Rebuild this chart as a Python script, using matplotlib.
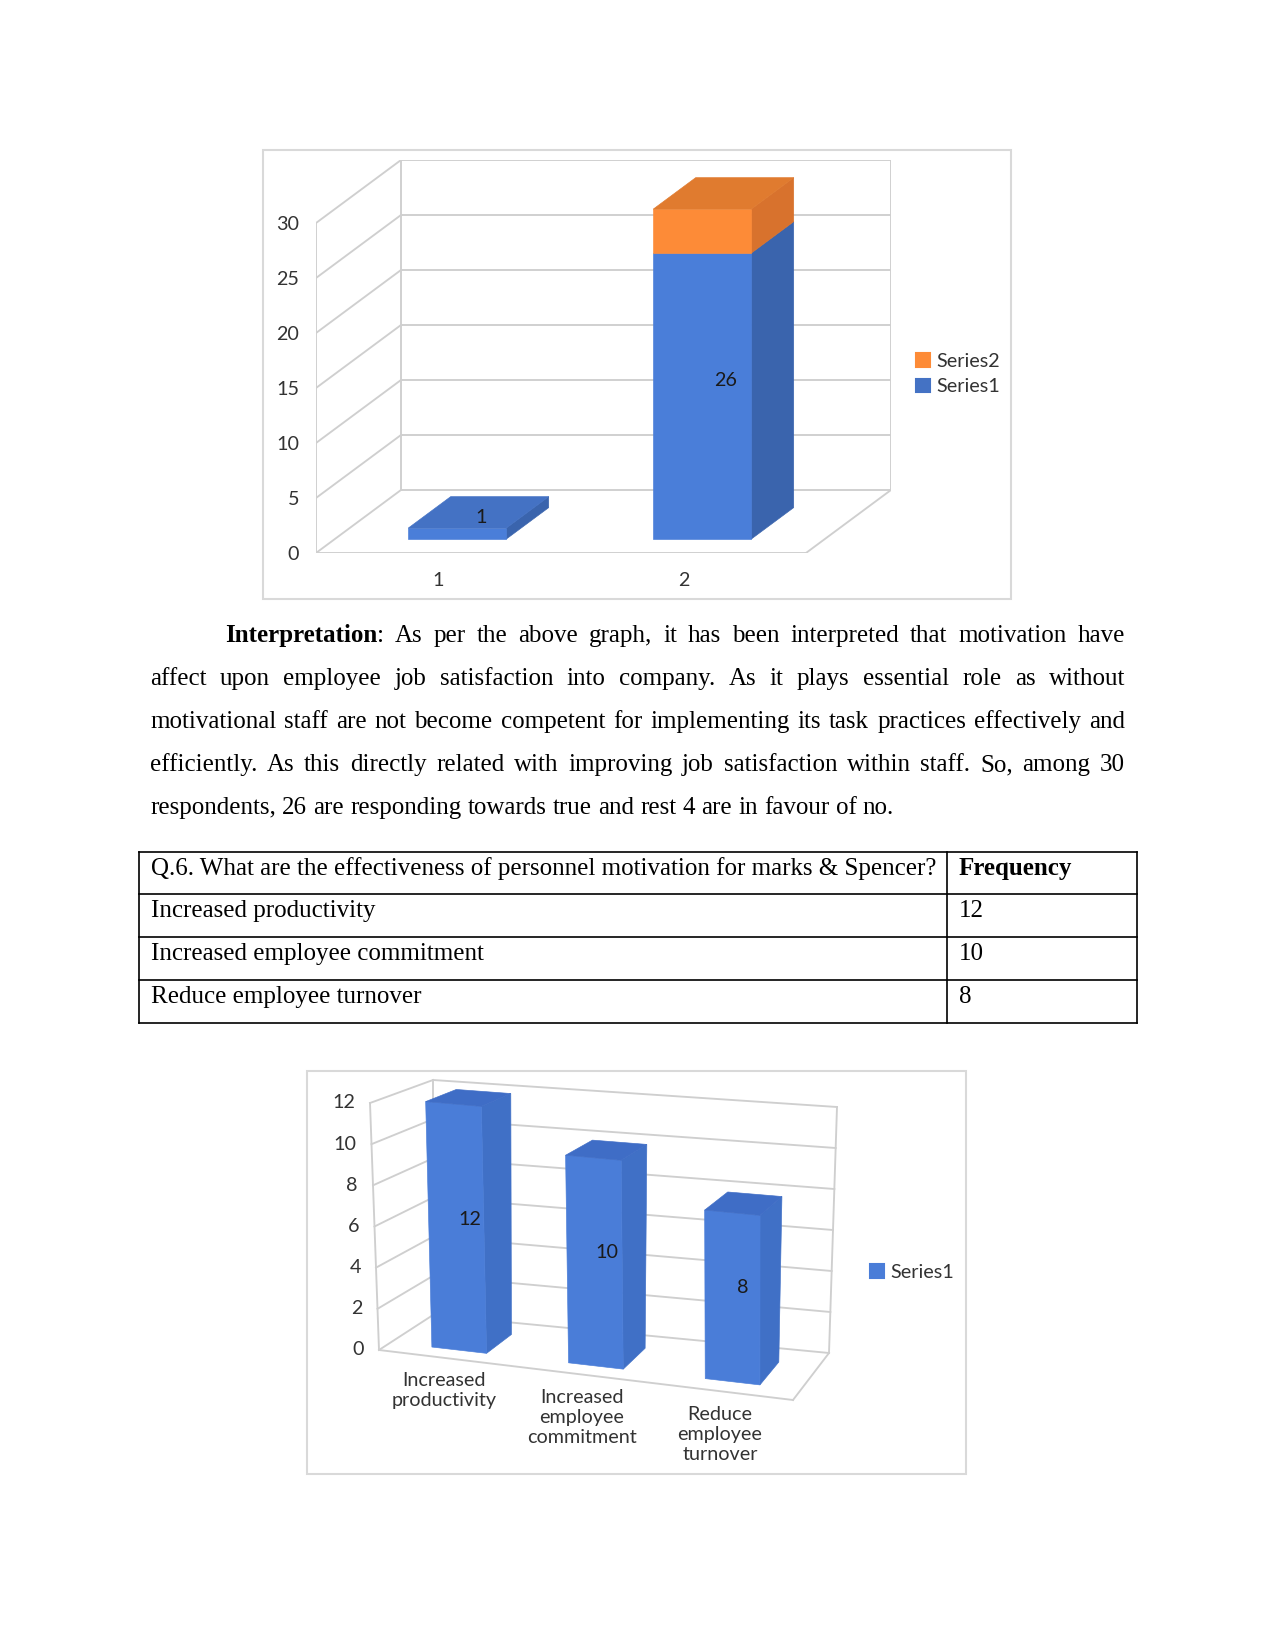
import matplotlib
matplotlib.use('Agg')
import matplotlib.pyplot as plt
from matplotlib.patches import Polygon, Rectangle, Patch

# ---- chart 1 data
c1_categories = ['1', '2']
c1_series1 = [1, 26]
c1_series2 = [0, 4]
c1_yticks = [0, 5, 10, 15, 20, 25, 30]

# ---- table / chart 2 data
question = 'Q.6. What are the effectiveness of personnel motivation for marks & Spencer?'
freq_header = 'Frequency'
effects = ['Increased productivity', 'Increased employee commitment', 'Reduce employee turnover']
effect_labels = ['Increased\nproductivity', 'Increased\nemployee\ncommitment', 'Reduce\nemployee\nturnover']
frequency = [12, 10, 8]
c2_yticks = [0, 2, 4, 6, 8, 10, 12]

para_lines = [
    'Interpretation: As per the above graph, it has been interpreted that motivation have',
    'affect upon employee job satisfaction into company. As it plays essential role as without',
    'motivational staff are not become competent for implementing its task practices effectively and',
    'efficiently. As this directly related with improving job satisfaction within staff. So, among 30',
    'respondents, 26 are responding towards true and rest 4 are in favour of no.',
]

W, H = 1275, 1650
SERIF = 'Liberation Serif'
SANS = 'Lato'
TXT = '#333333'
GRID = '#cfcfcf'
BLUE = ('#4a7ed9', '#3a64ad', '#4472c4')     # front, side, top
ORANGE = ('#fd8b37', '#d8722d', '#e07b2f')
BLUE2 = ('#4a7dd8', '#4070c6', '#3f6dc6')
FS = 9.5

fig = plt.figure(figsize=(8.5, 11), dpi=150)
fig.patch.set_facecolor('white')


def fig_rect(x0, y0, x1, y1):
    return [x0 / W, 1 - y1 / H, (x1 - x0) / W, (y1 - y0) / H]


# page overlay in pixel coordinates
page = fig.add_axes([0, 0, 1, 1])
page.set_xlim(0, W)
page.set_ylim(H, 0)
page.axis('off')

# chart frames
for (x0, y0, x1, y1) in [(263, 150, 1011, 599), (307, 1071, 966, 1474)]:
    page.add_patch(Rectangle((x0, y0), x1 - x0, y1 - y0, fill=False, ec='#d9d9d9', lw=1.0))

# ================= chart 1 (oblique 3D stacked columns) =================
OX, OY = 0.347, 5.73   # depth offset in data units
Z0, Z1 = 0.22, 0.72
n1 = len(c1_categories)
ymax1 = c1_yticks[-1]

ax1 = fig.add_axes(fig_rect(316, 160, 891, 553))
ax1.set_xlim(0, n1 + OX)
ax1.set_ylim(0, ymax1 + OY)
ax1.set_frame_on(False)
ax1.set_yticks(c1_yticks)
ax1.set_yticklabels([str(t) for t in c1_yticks])
ax1.set_xticks([i + 0.5 for i in range(n1)])
ax1.set_xticklabels(c1_categories)
ax1.tick_params(axis='y', length=0, pad=8, labelsize=FS, labelcolor=TXT)
ax1.tick_params(axis='x', length=0, pad=9, labelsize=FS, labelcolor=TXT)
for lab in ax1.get_xticklabels() + ax1.get_yticklabels():
    lab.set_family(SANS)


def p1(x, y, z):
    return (x + z * OX, y + z * OY)


def line1(a, b):
    ax1.plot([a[0], b[0]], [a[1], b[1]], color=GRID, lw=0.9, zorder=1)


for t in c1_yticks:
    line1(p1(0, t, 1), p1(n1, t, 1))     # back wall
    line1(p1(0, t, 0), p1(0, t, 1))      # side wall
line1(p1(0, 0, 0), p1(0, ymax1, 0))
line1(p1(0, 0, 1), p1(0, ymax1, 1))
line1(p1(n1, 0, 1), p1(n1, ymax1, 1))
line1(p1(0, 0, 0), p1(n1, 0, 0))
line1(p1(n1, 0, 0), p1(n1, 0, 1))


def box(ax, proj, x0, x1, y0, y1, z0, z1, cols, top=True):
    front = [proj(x0, y0, z0), proj(x1, y0, z0), proj(x1, y1, z0), proj(x0, y1, z0)]
    side = [proj(x1, y0, z0), proj(x1, y0, z1), proj(x1, y1, z1), proj(x1, y1, z0)]
    faces = [(side, cols[1]), (front, cols[0])]
    if top:
        faces.append(([proj(x0, y1, z0), proj(x1, y1, z0), proj(x1, y1, z1), proj(x0, y1, z1)], cols[2]))
    for pts, c in faces:
        ax.add_patch(Polygon(pts, closed=True, fc=c, ec=c, lw=0.3, zorder=3))


for i in range(n1):
    v1, v2 = c1_series1[i], c1_series2[i]
    box(ax1, p1, i + 0.3, i + 0.7, 0, v1, Z0, Z1, BLUE, top=(v2 == 0))
    if v2 > 0:
        box(ax1, p1, i + 0.3, i + 0.7, v1, v1 + v2, Z0, Z1, ORANGE)
    lx, ly = p1(i + 0.5, v1 / 2, (Z0 + Z1) / 2)
    ax1.text(lx + 0.01, ly, str(v1), ha='center', va='center', fontsize=FS, family=SANS,
             color='#1a1a1a', zorder=5)

leg1 = fig.legend(handles=[Patch(color=ORANGE[0], label='Series2'), Patch(color=BLUE[2], label='Series1')],
                  loc='center left', bbox_to_anchor=(906 / W, 1 - 374 / H), frameon=False,
                  handlelength=0.7, handleheight=0.7, handletextpad=0.35, labelspacing=0.45,
                  borderpad=0, prop={'family': SANS, 'size': FS})
for t in leg1.get_texts():
    t.set_color(TXT)

# ================= paragraph =================
fig.canvas.draw()
rend = fig.canvas.get_renderer()


def seg_width(s, weight='normal'):
    t = page.text(0, 0, s, fontsize=12, family=SERIF, weight=weight)
    w = t.get_window_extent(renderer=rend).width
    t.remove()
    return w


LEFT, RIGHT = 150, 1125
space_w = seg_width('a b') - seg_width('ab')
base_y = [642, 685, 728, 771, 814]
for li, line in enumerate(para_lines):
    words = line.split(' ')
    segs = []
    for wi, wd in enumerate(words):
        if li == 0 and wi == 0:
            segs.append([('Interpretation', 'bold'), (':', 'normal')])
        else:
            segs.append([(wd, 'normal')])
    widths = [sum(seg_width(s, wt) for s, wt in sg) for sg in segs]
    x = LEFT + (75 if li == 0 else 0)
    last = li == len(para_lines) - 1
    gap = space_w if last else (RIGHT - x - sum(widths)) / (len(segs) - 1)
    for sg, w in zip(segs, widths):
        xx = x
        for s, wt in sg:
            page.text(xx, base_y[li], s, fontsize=12, family=SERIF, weight=wt,
                      va='baseline', ha='left', color='black')
            xx += seg_width(s, wt)
        x += w + gap

# ================= table =================
tx0, tx1, tdiv = 139, 1137, 947
rows_y = [852, 894, 937, 980, 1023]
for y in rows_y:
    page.plot([tx0, tx1], [y, y], color='black', lw=0.8)
for x in [tx0, tdiv, tx1]:
    page.plot([x, x], [rows_y[0], rows_y[-1]], color='black', lw=0.8)
cells = [(question, freq_header)] + [(e, str(f)) for e, f in zip(effects, frequency)]
for r, (a, b) in enumerate(cells):
    yb = rows_y[r] + 23
    page.text(151, yb, a, fontsize=12, family=SERIF, va='baseline')
    page.text(959, yb, b, fontsize=12, family=SERIF, va='baseline',
              weight='bold' if r == 0 else 'normal')

# ================= chart 2 (perspective 3D columns) =================
n2 = len(frequency)
ymax2 = c2_yticks[-1]
# projected frame corners (front/back, bottom/top, left/right)
C = {
    'FBL': (379, 1350), 'FBR': (793, 1400), 'BBL': (433, 1315), 'BBR': (829, 1353),
    'FTL': (370, 1103), 'FTR': (792, 1142), 'BTL': (433, 1080), 'BTR': (837, 1107),
}

ax2 = fig.add_axes(fig_rect(307, 1071, 966, 1474))
ax2.set_xlim(307, 966)
ax2.set_ylim(1474, 1071)
ax2.axis('off')


def p2(x, y, z):
    u, v, w = x / n2, y / ymax2, z
    out = []
    for k in range(2):
        fb = C['FBL'][k] * (1 - u) + C['FBR'][k] * u
        bb = C['BBL'][k] * (1 - u) + C['BBR'][k] * u
        ft = C['FTL'][k] * (1 - u) + C['FTR'][k] * u
        bt = C['BTL'][k] * (1 - u) + C['BTR'][k] * u
        bot = fb * (1 - w) + bb * w
        top = ft * (1 - w) + bt * w
        out.append(bot * (1 - v) + top * v)
    return tuple(out)


def line2(a, b):
    ax2.plot([a[0], b[0]], [a[1], b[1]], color=GRID, lw=0.9, zorder=1)


for t in c2_yticks:
    line2(p2(0, t, 1), p2(n2, t, 1))
    line2(p2(0, t, 0), p2(0, t, 1))
line2(p2(0, 0, 0), p2(0, ymax2, 0))
line2(p2(0, 0, 1), p2(0, ymax2, 1))
line2(p2(n2, 0, 1), p2(n2, ymax2, 1))
line2(p2(0, 0, 0), p2(n2, 0, 0))
line2(p2(n2, 0, 0), p2(n2, 0, 1))

for t in c2_yticks:
    x, y = p2(0, t, 0)
    ax2.text(x - 15, y, str(t), ha='right', va='center', fontsize=FS, family=SANS, color=TXT)

for i, v in enumerate(frequency):
    box(ax2, p2, i + 0.3, i + 0.7, 0, v, Z0, Z1, BLUE2)
    lx, ly = p2(i + 0.5, v / 2, (Z0 + Z1) / 2)
    ax2.text(lx, ly, str(v), ha='center', va='center', fontsize=FS, family=SANS,
             color='#1a1a1a', zorder=5)
    cx, cy = p2(i + 0.5, 0, 0)
    ax2.text(cx - 4, cy + 14, effect_labels[i], ha='center', va='top', fontsize=FS,
             family=SANS, color=TXT, linespacing=1.22, multialignment='center')

leg2 = fig.legend(handles=[Patch(color=BLUE2[0], label='Series1')],
                  loc='center left', bbox_to_anchor=(860 / W, 1 - 1272 / H), frameon=False,
                  handlelength=0.7, handleheight=0.7, handletextpad=0.35,
                  borderpad=0, prop={'family': SANS, 'size': FS})
for t in leg2.get_texts():
    t.set_color(TXT)

fig.savefig('out.png', dpi=150, facecolor='white')
